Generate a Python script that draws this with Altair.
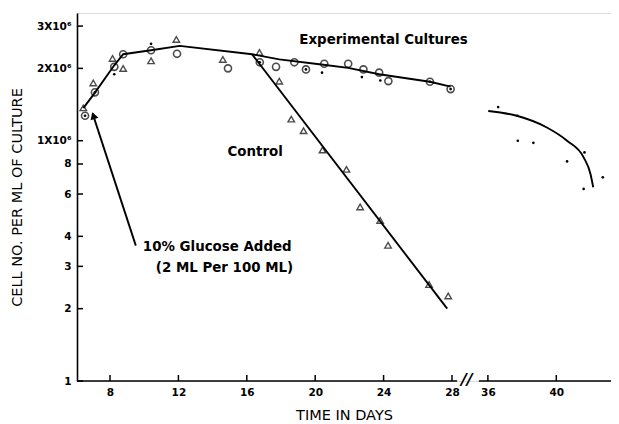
import altair as alt
import pandas as pd

# ---------------- data (days, cells per ml) ----------------
SHIFT = 5.9  # days cut out by the axis break (28 // 36)

tri_day = [6.44, 7.02, 8.15, 8.77, 10.4, 11.88, 14.6, 16.74, 17.9, 18.6, 19.32,
           20.43, 21.83, 22.63, 23.8, 24.26, 26.66, 27.78]
tri_val = [1.37e6, 1.74e6, 2.2e6, 2.0e6, 2.15e6, 2.64e6, 2.18e6, 2.33e6, 1.77e6, 1.23e6,
           1.10e6, 9.15e5, 7.6e5, 5.3e5, 4.66e5, 3.67e5, 2.52e5, 2.26e5]

circ_day = [8.25, 8.77, 10.4, 11.92, 14.9, 17.71, 18.78, 20.53, 21.93, 22.82, 23.74, 24.28]
circ_val = [2.03e6, 2.29e6, 2.38e6, 2.30e6, 2.0e6, 2.03e6, 2.12e6, 2.09e6, 2.09e6,
            1.98e6, 1.92e6, 1.77e6]

dcirc_day = [6.54, 7.12, 16.76, 19.46, 26.71, 27.92]
dcirc_val = [1.27e6, 1.59e6, 2.12e6, 1.98e6, 1.76e6, 1.64e6]

dot_day = [8.25, 10.4, 20.4, 22.73, 23.81, 36.6, 37.72, 37.75, 38.66, 40.63, 41.65, 41.6, 42.72]
dot_val = [1.89e6, 2.53e6, 1.92e6, 1.84e6, 1.78e6, 1.38e6, 1.27e6, 1.0e6, 9.8e5,
           8.2e5, 8.94e5, 6.3e5, 7.04e5]

exp_day = [6.44, 7.12, 8.25, 8.77, 10.4, 12.08, 16.31, 17.9, 20.24, 21.93, 23.74, 26.71, 27.92]
exp_val = [1.367e6, 1.586e6, 2.06e6, 2.29e6, 2.38e6, 2.48e6, 2.29e6, 2.18e6, 2.08e6,
           2.01e6, 1.89e6, 1.76e6, 1.68e6]

ctrl_day = [16.31, 27.72]
ctrl_val = [2.29e6, 2.0e5]

late_day = [36.02, 37.69, 39.45, 40.63, 41.6, 42.0, 42.16]
late_val = [1.33e6, 1.27e6, 1.135e6, 1.0e6, 8.53e5, 7.27e5, 6.4e5]

x_ticks = [8, 12, 16, 20, 24, 28, 36, 40]
y_ticks = [1e5, 2e5, 3e5, 4e5, 6e5, 8e5, 1e6, 2e6, 3e6]

notes = ["Experimental Cultures", "Control", "10% Glucose Added", "(2 ML Per 100 ML)"]
note_day = [19.07, 14.87, 9.92, 10.68]
note_val = [2.62e6, 9.0e5, 3.6e5, 2.94e5]

arrow_tail = (9.51, 3.66e5)
arrow_tip = (6.98, 1.30e6)
arrow_head = (7.03, 1.272e6)

# ---------------- helpers ----------------
def xp(d):
    return d - SHIFT if d > 30 else d

def frame(days, vals):
    return pd.DataFrame({"xp": [xp(d) for d in days], "val": vals})

W, H = 534, 368
X0, X1 = 6.07, 37.3
Y0, Y1 = 1e5, 3.4e6
FONT = "DejaVu Sans"

xs = alt.Scale(domain=[X0, X1], nice=False, zero=False)
ys = alt.Scale(type="log", domain=[Y0, Y1], nice=False)

xaxis = alt.Axis(
    values=[xp(t) for t in x_ticks],
    labelExpr=f"'' + round(datum.value > 29 ? datum.value + {SHIFT} : datum.value)",
    title="TIME IN DAYS", grid=False, domain=False, ticks=False,
    labelFont=FONT, labelFontSize=10.5, labelFontWeight="bold", labelColor="black",
    labelPadding=6, titleFont=FONT, titleFontSize=14.5, titleFontWeight="normal",
    titleColor="black", titleY=34, titleBaseline="middle",
)
yaxis = alt.Axis(
    values=y_ticks,
    labelExpr="datum.value >= 1e6 ? round(datum.value / 1e6) + 'X10\u2076' : '' + round(datum.value / 1e5)",
    title="CELL NO. PER ML OF CULTURE", grid=False, domain=True, domainColor="black",
    domainWidth=1.6, ticks=False, labelFont=FONT, labelFontSize=10.5,
    labelFontWeight="bold", labelColor="black", labelPadding=6,
    titleFont=FONT, titleFontSize=14.5, titleFontWeight="normal", titleColor="black",
    titleX=-60, titleY=H / 2, titleBaseline="middle",
)

def X(f="xp"):
    return alt.X(f"{f}:Q", scale=xs, axis=xaxis)

def Y(f="val"):
    return alt.Y(f"{f}:Q", scale=ys, axis=yaxis)

layers = []

# fitted curves
for days, vals, interp in [(exp_day, exp_val, "linear"), (ctrl_day, ctrl_val, "linear"),
                           (late_day, late_val, "monotone")]:
    layers.append(alt.Chart(frame(days, vals)).mark_line(
        color="black", strokeWidth=1.9, interpolate=interp).encode(x=X(), y=Y()))

# symbols
layers.append(alt.Chart(frame(tri_day, tri_val)).mark_point(
    shape="triangle-up", filled=False, color="black", size=42, strokeWidth=1.4
).encode(x=X(), y=Y()))
layers.append(alt.Chart(frame(circ_day, circ_val)).mark_point(
    shape="circle", filled=False, color="black", size=50, strokeWidth=1.6
).encode(x=X(), y=Y()))
layers.append(alt.Chart(frame(dcirc_day, dcirc_val)).mark_point(
    shape="circle", filled=False, color="black", size=50, strokeWidth=1.6
).encode(x=X(), y=Y()))
layers.append(alt.Chart(frame(dcirc_day + dot_day, dcirc_val + dot_val)).mark_circle(
    color="black", size=7, opacity=1).encode(x=X(), y=Y()))

# inward ticks
layers.append(alt.Chart(pd.DataFrame({"val": y_ticks})).mark_rule(
    color="black", strokeWidth=1.5).encode(x=alt.value(0), x2=alt.value(6), y=Y()))
layers.append(alt.Chart(pd.DataFrame({"xp": [xp(t) for t in x_ticks]})).mark_rule(
    color="black", strokeWidth=1.5).encode(x=X(), y=alt.value(H), y2=alt.value(H - 6)))

# broken x axis line
seg = pd.DataFrame({"xp": [X0, 29.57], "xp2": [28.3, X1]})
layers.append(alt.Chart(seg).mark_rule(color="black", strokeWidth=1.6).encode(
    x=X(), x2="xp2:Q", y=alt.value(H)))
layers.append(alt.Chart(pd.DataFrame({"xp": [28.87], "t": ["//"]})).mark_text(
    font=FONT, fontSize=16, fontWeight="bold", fontStyle="italic", color="black",
    baseline="middle").encode(x=X(), y=alt.value(H - 1), text="t:N"))

# annotations
layers.append(alt.Chart(pd.DataFrame({"xp": note_day, "val": note_val, "t": notes})).mark_text(
    font=FONT, fontSize=13.4, fontWeight="bold", color="black", align="left",
    baseline="middle").encode(x=X(), y=Y(), text="t:N"))

arr = pd.DataFrame({"xp": [arrow_tail[0]], "val": [arrow_tail[1]],
                    "xp2": [arrow_tip[0]], "val2": [arrow_tip[1]]})
layers.append(alt.Chart(arr).mark_rule(color="black", strokeWidth=1.9).encode(
    x=X(), y=Y(), x2="xp2:Q", y2="val2:Q"))
layers.append(alt.Chart(frame([arrow_head[0]], [arrow_head[1]])).mark_point(
    shape="triangle-up", filled=True, color="black", size=70, angle=342, opacity=1
).encode(x=X(), y=Y()))

chart = alt.layer(*layers).properties(
    width=W, height=H,
    autosize=alt.AutoSizeParams(type="none"),
    padding={"left": 69, "top": 5, "right": 0, "bottom": 43},
).configure_view(stroke=None).configure(background="white")

chart.save("out.html", embed_options={"renderer": "svg", "actions": False})
